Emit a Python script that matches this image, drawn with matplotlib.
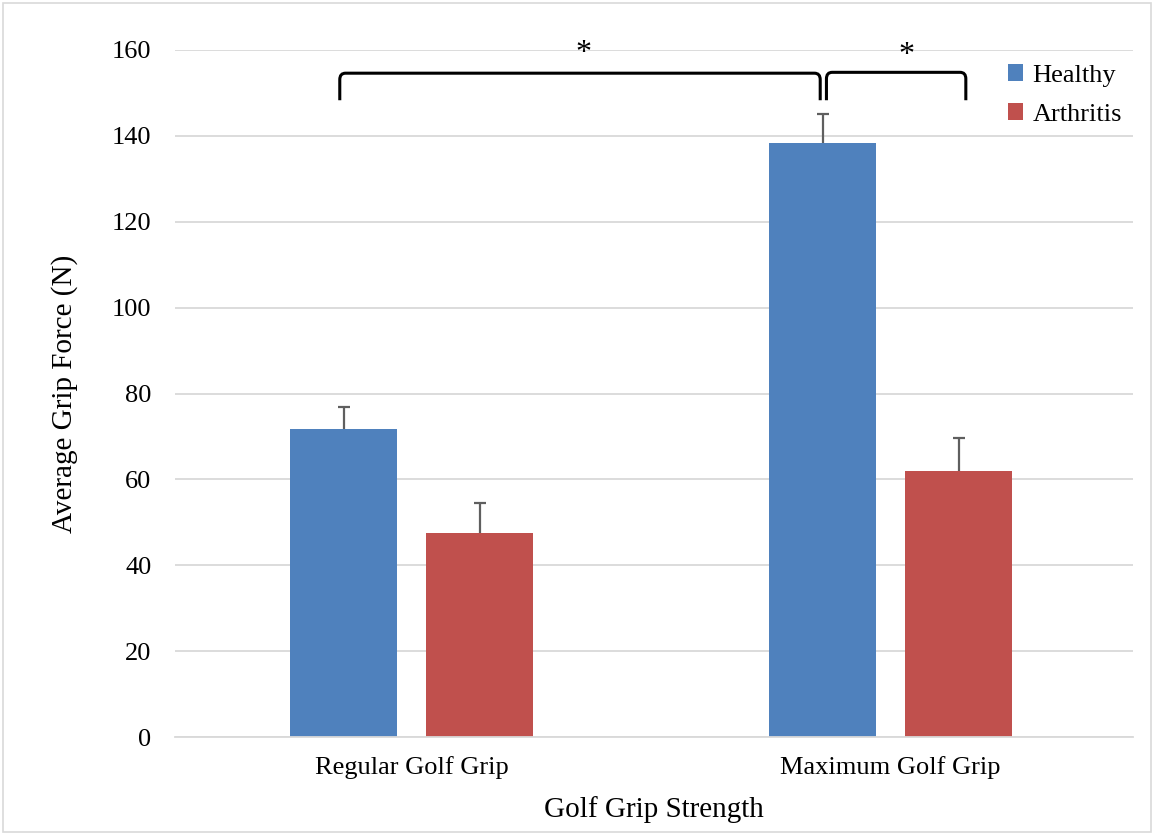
import matplotlib.pyplot as plt
from matplotlib.path import Path
from matplotlib.patches import PathPatch, Rectangle

categories = ["Regular Golf Grip", "Maximum Golf Grip"]
healthy = [71.7, 138.3]
healthy_err = [5.2, 6.8]
arthritis = [47.5, 61.9]
arthritis_err = [7.0, 7.7]
yticks = [0, 20, 40, 60, 80, 100, 120, 140, 160]

plt.rcParams['font.family'] = ['Liberation Serif', 'DejaVu Serif']

fig = plt.figure(figsize=(11.54, 8.35), dpi=100)
ax = fig.add_axes([175 / 1154, 1 - 737 / 835, (1133 - 175) / 1154, (737 - 50) / 835])

blue = "#4f81bd"
red = "#c0504d"
w = 0.223
off = 0.142
x = list(range(len(categories)))
xh = [i - off for i in x]
xa = [i + off for i in x]
ax.bar(xh, healthy, w, color=blue, label="Healthy", zorder=2)
ax.bar(xa, arthritis, w, color=red, label="Arthritis", zorder=2)

# error bars (upper only, cap on top)
for xs, vals, errs in [(xh, healthy, healthy_err), (xa, arthritis, arthritis_err)]:
    tops = [v + e for v, e in zip(vals, errs)]
    ax.vlines(xs, vals, tops, color="#5f5f5f", lw=1.6, zorder=3)
    ax.plot(xs, tops, ls="none", marker="_", ms=9, mew=1.6, color="#5f5f5f", zorder=3)

ax.set_xlim(-0.494, 1.506)
ax.set_ylim(0, 160)
ax.set_yticks(yticks)
ax.set_xticks(x)
ax.set_xticklabels(categories)
ax.tick_params(axis='both', length=0, labelsize=19)
ax.tick_params(axis='x', pad=14)
ax.tick_params(axis='y', pad=17)
ax.grid(axis='y', color="#d9d9d9", linewidth=1.3, zorder=0)
ax.set_axisbelow(True)
for s in ["left", "right", "top"]:
    ax.spines[s].set_visible(False)
ax.spines["bottom"].set_color("#d9d9d9")
ax.spines["bottom"].set_linewidth(1.3)

ax.set_xlabel("Golf Grip Strength", fontsize=21, labelpad=12)
ax.set_ylabel("Average Grip Force (N)", fontsize=21, labelpad=24)


def bracket(x0, x1, ylo, yhi, rx=0.012, ry=1.5):
    verts = [(x0, ylo), (x0, yhi - ry), (x0, yhi), (x0 + rx, yhi),
             (x1 - rx, yhi), (x1, yhi), (x1, yhi - ry), (x1, ylo)]
    codes = [Path.MOVETO, Path.LINETO, Path.CURVE3, Path.CURVE3,
             Path.LINETO, Path.CURVE3, Path.CURVE3, Path.LINETO]
    ax.add_patch(PathPatch(Path(verts, codes), fill=False, lw=2.2,
                           color="black", clip_on=False, zorder=3))


bracket(-0.150, 0.853, 148.3, 154.6)
bracket(0.866, 1.157, 148.3, 154.8)
ax.text(0.358, 159.2, "*", ha="center", va="center", fontsize=23)
ax.text(1.033, 158.8, "*", ha="center", va="center", fontsize=23)

ax.legend(loc="upper left", bbox_to_anchor=(0.858, 0.995), frameon=False,
          fontsize=19, handlelength=0.6, handleheight=0.6, handletextpad=0.35,
          labelspacing=0.62, borderaxespad=0)

fig.patches.append(Rectangle((0.003, 0.003), 0.994, 0.994, transform=fig.transFigure,
                             fill=False, edgecolor="#d9d9d9", lw=1.2))

fig.savefig("out.png", dpi=100)
